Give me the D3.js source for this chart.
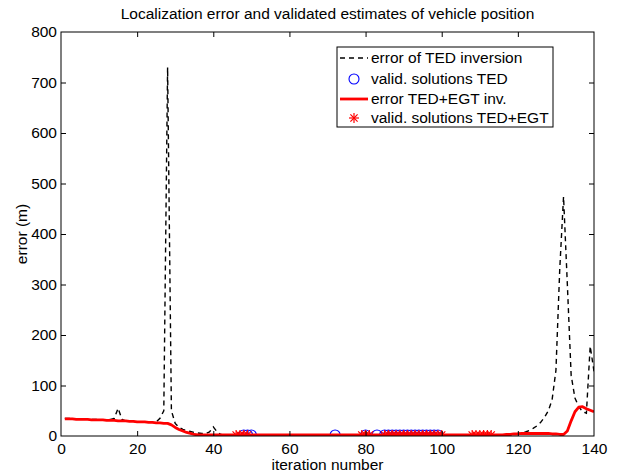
<!DOCTYPE html>
<html><head><meta charset="utf-8">
<script src="https://cdn.jsdelivr.net/npm/d3@7"></script>
<style>body{margin:0;background:#fff}svg{display:block}text{font-family:"Liberation Sans",Arial,sans-serif}</style>
</head><body>
<script>
const title = "Localization error and validated estimates of vehicle position";
const xLabel = "iteration number";
const yLabel = "error (m)";
const xTicks = [0,20,40,60,80,100,120,140];
const yTicks = [0,100,200,300,400,500,600,700,800];
const legendLabels = ["error of TED inversion","valid. solutions TED","error TED+EGT inv.","valid. solutions TED+EGT"];

// iterations 1..140
const errTED = [
35,35,34,34,34,33,33,33,33,32,
32,32,33,35,55,33,30,29,29,28,
28,27,27,27,28,35,50,730,50,25,
17,13,11,9,7,6,5,5,8,18,
8,3,2,2,1,1,1,1,1,1,
1,1,1,1,1,1,1,1,1,1,
1,1,1,1,1,1,1,1,1,1,
1,1,1,1,1,1,1,1,1,1,
1,1,1,1,1,1,1,1,1,1,
1,1,1,1,1,1,1,1,1,1,
1,1,1,1,1,1,1,1,1,1,
1,1,1,1,1,1,2,2,3,5,
6,8,11,15,20,27,37,50,72,130,
330,474,300,120,75,58,48,45,178,128];
const errTEDEGT = [
34,34,34,33,33,33,33,32,32,32,
32,31,31,31,30,30,30,29,29,28,
28,28,27,27,26,26,25,25,22,17,
13,10,7,5,3,2,2,2,2,2,
2,2,2,2,2,2,2,2,2,2,
2,2,2,2,2,2,2,2,2,2,
2,2,2,2,2,2,2,2,2,2,
2,2,2,2,2,2,2,2,2,2,
2,2,2,2,2,2,2,2,2,2,
2,2,2,2,2,2,2,2,2,2,
2,2,2,2,2,2,2,2,2,2,
2,2,2,2,2,2,3,3,4,4,
5,5,5,5,5,5,5,5,4,4,
3,3,10,30,48,57,58,54,51,48];
const validTED = [48,49,50,72,80,83,85,86,87,88,89,90,91,92,93,94,95,96,97,98,99];
const validTEDEGT = [46,47,48,49,79,80,81,85,86,87,88,89,90,91,92,93,94,95,96,97,98,99,100,108,109,110,111,112,113];

const W = 619, H = 472;
const m = {l:61, r:594, t:32, b:436};
const FS = 15.5;
const svg = d3.select("body").append("svg").attr("width",W).attr("height",H);
const x = d3.scaleLinear().domain([0,140]).range([m.l,m.r]);
const y = d3.scaleLinear().domain([0,800]).range([m.b,m.t]);

svg.append("clipPath").attr("id","c").append("rect")
  .attr("x",m.l).attr("y",m.t).attr("width",m.r-m.l).attr("height",m.b-m.t);

const line = arr => d3.line().x((d,i)=>x(i+1)).y(d=>y(d))(arr);

const g = svg.append("g").attr("clip-path","url(#c)");
g.append("path").attr("d",line(errTED)).attr("fill","none").attr("stroke","#000")
  .attr("stroke-width",1.4).attr("stroke-dasharray","5,4");

g.selectAll("circle.v").data(validTED).enter().append("circle")
  .attr("cx",d=>x(d)).attr("cy",d=>y(errTED[d-1]+1)).attr("r",5)
  .attr("fill","none").attr("stroke","#0000ff").attr("stroke-width",1.1);

g.append("path").attr("d",line(errTEDEGT)).attr("fill","none").attr("stroke","#ff0000")
  .attr("stroke-width",2.8).attr("stroke-linejoin","round");

function star(sel, cx, cy, r){
  const s = sel.append("g").attr("transform",`translate(${cx},${cy})`)
    .attr("stroke","#ff0000").attr("stroke-width",1.2);
  s.append("line").attr("x1",-r).attr("x2",r).attr("y1",0).attr("y2",0);
  s.append("line").attr("x1",0).attr("x2",0).attr("y1",-r).attr("y2",r);
  const q = r*0.72;
  s.append("line").attr("x1",-q).attr("x2",q).attr("y1",-q).attr("y2",q);
  s.append("line").attr("x1",-q).attr("x2",q).attr("y1",q).attr("y2",-q);
}
validTEDEGT.forEach(d=>star(g, x(d), y(errTEDEGT[d-1]), 5));

svg.append("rect").attr("x",m.l).attr("y",m.t).attr("width",m.r-m.l).attr("height",m.b-m.t)
  .attr("fill","none").attr("stroke","#000").attr("stroke-width",1);

const tl = 5;
const xb = svg.append("g").attr("transform",`translate(0,${m.b})`)
  .call(d3.axisBottom(x).tickValues(xTicks).tickSize(-tl).tickPadding(7).tickFormat(d3.format("d")));
const xt = svg.append("g").attr("transform",`translate(0,${m.t})`)
  .call(d3.axisTop(x).tickValues(xTicks).tickSize(-tl).tickFormat(""));
const yl = svg.append("g").attr("transform",`translate(${m.l},0)`)
  .call(d3.axisLeft(y).tickValues(yTicks).tickSize(-tl).tickPadding(4).tickFormat(d3.format("d")));
const yr = svg.append("g").attr("transform",`translate(${m.r},0)`)
  .call(d3.axisRight(y).tickValues(yTicks).tickSize(-tl).tickFormat(""));
[xb,xt,yl,yr].forEach(a=>{
  a.select(".domain").remove();
  a.selectAll("text").attr("font-size",FS).attr("font-family","Liberation Sans, Arial, sans-serif").attr("fill","#000");
  a.selectAll("line").attr("stroke","#000");
});
xt.selectAll(".tick").filter(d=>d===0||d===140).remove();
yr.selectAll(".tick").filter(d=>d===0||d===800).remove();
xb.selectAll(".tick line").filter(d=>d===0||d===140).remove();
yl.selectAll(".tick line").filter(d=>d===0||d===800).remove();

svg.append("text").attr("x",(m.l+m.r)/2).attr("y",19).attr("text-anchor","middle")
  .attr("font-size",FS).text(title);
svg.append("text").attr("x",(m.l+m.r)/2).attr("y",470).attr("text-anchor","middle")
  .attr("font-size",FS).text(xLabel);
svg.append("text").attr("transform",`translate(27,${(m.t+m.b)/2}) rotate(-90)`).attr("text-anchor","middle")
  .attr("font-size",FS).text(yLabel);

const lg = svg.append("g");
const lx = 337, ly = 47, lw = 216, lh = 80;
lg.append("rect").attr("x",lx).attr("y",ly).attr("width",lw).attr("height",lh)
  .attr("fill","#fff").attr("stroke","#000").attr("stroke-width",1);
const rows = [58, 79, 99, 118];
const tx = 371;
legendLabels.forEach((t,i)=>{
  lg.append("text").attr("x",tx).attr("y",rows[i]).attr("dy","0.35em").attr("font-size",FS).text(t);
});
lg.append("line").attr("x1",340).attr("x2",368).attr("y1",rows[0]).attr("y2",rows[0])
  .attr("stroke","#000").attr("stroke-width",1.4).attr("stroke-dasharray","5,4");
lg.append("circle").attr("cx",354).attr("cy",rows[1]).attr("r",5).attr("fill","none").attr("stroke","#0000ff").attr("stroke-width",1.1);
lg.append("line").attr("x1",340).attr("x2",368).attr("y1",rows[2]).attr("y2",rows[2])
  .attr("stroke","#ff0000").attr("stroke-width",2.8);
star(lg, 354, rows[3], 5);
</script>
</body></html>
